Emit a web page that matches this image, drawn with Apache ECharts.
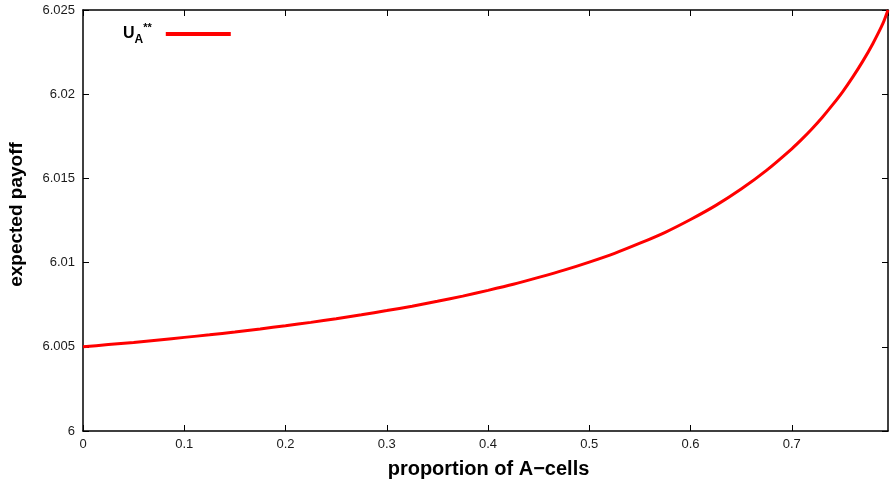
<!DOCTYPE html>
<html>
<head>
<meta charset="utf-8">
<script src="https://cdn.jsdelivr.net/npm/echarts@6/dist/echarts.min.js"></script>
<style>
html,body{margin:0;padding:0;background:#fff;}
#chart{width:890px;height:484px;}
</style>
</head>
<body>
<div id="chart"></div>
<script>
// Data
const xValues = [0, 0.025, 0.05, 0.075, 0.1, 0.125, 0.15, 0.175, 0.2, 0.225, 0.25, 0.275, 0.3, 0.325, 0.35, 0.375, 0.4, 0.425, 0.45, 0.475, 0.5, 0.525, 0.55, 0.575, 0.6, 0.625, 0.65, 0.675, 0.7, 0.71, 0.72, 0.73, 0.74, 0.75, 0.76, 0.77, 0.78, 0.79, 0.795];
const uValues = [6.00500, 6.00513, 6.00526, 6.00541, 6.00556, 6.00571, 6.00588, 6.00606, 6.00625, 6.00645, 6.00667, 6.00690, 6.00715, 6.00741, 6.00770, 6.00801, 6.00835, 6.00871, 6.00912, 6.00955, 6.01003, 6.01055, 6.01115, 6.01180, 6.01256, 6.01340, 6.01437, 6.01548, 6.01676, 6.01733, 6.01795, 6.01862, 6.01935, 6.02013, 6.02100, 6.02195, 6.02300, 6.02420, 6.02500];
const xTickLabels = ['0', '0.1', '0.2', '0.3', '0.4', '0.5', '0.6', '0.7'];
const yTickLabels = ['6', '6.005', '6.01', '6.015', '6.02', '6.025'];
const seriesName = 'UA**';

const FONT = '"Liberation Sans", Arial, sans-serif';
const fmtX = v => { const s = String(parseFloat(v.toFixed(3))); return xTickLabels.includes(s) ? s : ''; };
const fmtY = v => { const s = String(parseFloat(v.toFixed(3))); return yTickLabels.includes(s) ? s : ''; };

const axisLine = { show: true, onZero: false, lineStyle: { color: '#000', width: 1.5 } };
const tick = { show: true, inside: true, length: 6, lineStyle: { color: '#000', width: 1 } };

const chart = echarts.init(document.getElementById('chart'), null, { renderer: 'canvas' });
chart.setOption({
  animation: false,
  backgroundColor: '#fff',
  grid: { left: 83, right: 2, top: 10, bottom: 53, containLabel: false, outerBoundsMode: 'none' },
  legend: {
    show: true,
    left: 118,
    top: 17,
    align: 'right',
    icon: 'rect',
    itemWidth: 65,
    itemHeight: 4,
    data: [seriesName],
    formatter: () => '{u|U}{s|A}{p|**}',
    textStyle: {
      rich: {
        u: { fontFamily: FONT, fontWeight: 'bold', fontSize: 16, color: '#000' },
        s: { fontFamily: FONT, fontWeight: 'bold', fontSize: 12, color: '#000', padding: [11, 0, 0, 0] },
        p: { fontFamily: FONT, fontWeight: 'bold', fontSize: 11, color: '#000', padding: [0, 9, 13, 0] }
      }
    }
  },
  xAxis: [{
    type: 'value', position: 'bottom', min: 0, max: 0.795, interval: 0.1,
    name: 'proportion of A\u2212cells', nameLocation: 'middle', nameGap: 28,
    nameTextStyle: { fontFamily: FONT, fontWeight: 'bold', fontSize: 20, color: '#000', padding: [0, 0, 0, 6] },
    axisLine: axisLine, axisTick: tick, splitLine: { show: false },
    axisLabel: { show: true, showMaxLabel: false, formatter: fmtX, fontFamily: FONT, fontSize: 13, color: '#1a1a1a', margin: 7 }
  }, {
    type: 'value', position: 'top', min: 0, max: 0.795, interval: 0.1,
    axisLine: axisLine, axisTick: tick, splitLine: { show: false },
    axisLabel: { show: false }
  }],
  yAxis: [{
    type: 'value', position: 'left', min: 6, max: 6.025, interval: 0.005,
    name: 'expected payoff', nameLocation: 'middle', nameGap: 57, nameRotate: 90,
    nameTextStyle: { fontFamily: FONT, fontWeight: 'bold', fontSize: 19, color: '#000', padding: [0, 0, 0, 12] },
    axisLine: axisLine, axisTick: tick, splitLine: { show: false },
    axisLabel: { show: true, formatter: fmtY, fontFamily: FONT, fontSize: 13, color: '#1a1a1a', margin: 8 }
  }, {
    type: 'value', position: 'right', min: 6, max: 6.025, interval: 0.005,
    axisLine: axisLine, axisTick: tick, splitLine: { show: false },
    axisLabel: { show: false }
  }],
  series: [{
    name: seriesName,
    type: 'line',
    xAxisIndex: 0, yAxisIndex: 0,
    data: xValues.map((x, i) => [x, uValues[i]]),
    smooth: 0.2,
    showSymbol: false,
    symbol: 'none',
    clip: true,
    lineStyle: { color: '#ff0000', width: 3 },
    itemStyle: { color: '#ff0000' }
  }]
});
</script>
</body>
</html>
